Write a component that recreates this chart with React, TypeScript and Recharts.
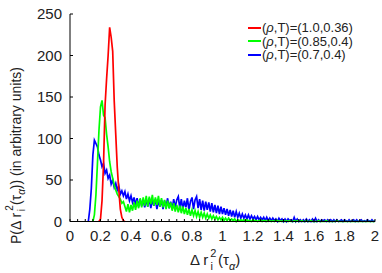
import React from 'react';
import { LineChart, Line, XAxis, YAxis, Legend } from 'recharts';

const STEP = 0.01;

const redStart = 0.19;
const redValues = [0, 3, 25, 70, 140, 172, 200, 234, 222, 205, 145, 105, 65, 38, 15, 5, 1, 0];

const greenStart = 0.15;
const greenValues = [
  0, 8, 32, 70, 110, 138, 146, 128, 125, 105, 90, 72, 60, 52, 44, 38, 33, 30, 27, 22, 24, 18,
  12, 21, 11, 20, 13, 23, 14, 25, 16, 28,
  17, 29, 19, 31, 18, 30, 21, 32, 19, 29,
  20, 31, 18, 28, 17, 26, 15, 25, 16, 23,
  13, 22, 12, 20, 11, 19, 10, 18, 9, 16,
  8, 15, 7, 14, 7, 13, 6, 12, 5, 11,
  5, 10, 4, 9, 4, 8, 3, 7, 3, 6,
  2, 5, 2, 5, 1, 4, 1, 4, 1, 3,
  1, 3, 0, 2,
  1, 2, 1, 2, 0, 2, 1, 1, 0, 2,
  1, 1, 0, 1, 2, 0, 1, 1, 0, 1,
  1, 0, 1, 0, 1, 1, 0, 1, 0, 1,
  0, 1, 0, 1, 0, 0, 1, 0, 1, 0,
  0, 1, 0, 0, 1, 0, 0, 1, 0, 0,
  0, 0, 1, 0, 0, 0, 0, 1, 0, 0,
  0, 0, 0, 0, 1, 0, 0, 0, 0, 0,
  0, 0, 0, 0, 0, 0, 0, 0, 0, 0,
  0, 0, 0, 0, 0, 0, 0, 0, 0, 0,
];

const blueStart = 0.12;
const blueValues = [
  0, 15, 40, 80, 98, 94, 90, 80, 74, 66,
  70, 58, 62, 52, 56, 45, 50, 41, 46, 38,
  43, 33, 37, 31, 36, 27, 33, 25, 31, 23,
  29, 20, 28, 18, 27, 19, 26, 17, 27, 18,
  28, 16, 26, 19, 27, 15, 25, 18, 26, 15,
  25, 17, 28, 16, 24, 15, 27, 17, 26, 30,
  16, 27, 15, 25, 17, 28, 14, 24, 29, 15,
  26, 30, 16, 27, 14, 25, 13, 24, 14, 23,
  12, 22, 11, 20, 10, 19, 9, 18, 9, 16,
  8, 15, 7, 14, 6, 13, 5, 12, 5, 10,
  4, 9, 4, 8, 3, 8, 3, 7, 3, 6,
  2, 6, 2, 5, 2, 5, 1, 5, 1, 4,
  1, 4, 1, 3, 0, 4, 1, 3, 0, 3,
  0, 3, 1, 2, 0, 5, 0, 3, 0, 2,
  0, 2, 0, 3, 0, 2, 0, 3, 0, 4,
  0, 2, 0, 2, 1, 2, 0, 2, 0, 2,
  0, 2, 0, 2, 0, 1, 2, 0, 2, 1,
  0, 2, 0, 1, 2, 0, 2, 0, 1, 2,
  0, 1, 0, 2, 1, 0, 2, 0, 1,
];

const xTicks = [
  0, 0.05, 0.1, 0.15, 0.2, 0.25, 0.3, 0.35, 0.4, 0.45, 0.5, 0.55, 0.6, 0.65, 0.7, 0.75, 0.8, 0.85, 0.9, 0.95,
  1, 1.05, 1.1, 1.15, 1.2, 1.25, 1.3, 1.35, 1.4, 1.45, 1.5, 1.55, 1.6, 1.65, 1.7, 1.75, 1.8, 1.85, 1.9, 1.95, 2,
];
const xLabeledTicks = [0, 0.2, 0.4, 0.6, 0.8, 1, 1.2, 1.4, 1.6, 1.8, 2];
const yTicks = [0, 50, 100, 150, 200, 250];

const seriesParams = ['(1.0,0.36)', '(0.85,0.4)', '(0.7,0.4)'];
const seriesColors = ['#ff0000', '#00ff00', '#0000ff'];

const FONT = '"Liberation Sans", Arial, Helvetica, sans-serif';

const toPoints = (start: number, values: number[]) =>
  values.map((y, i) => ({ x: Math.round((start + i * STEP) * 100) / 100, y }));

const redData = toPoints(redStart, redValues);
const greenData = toPoints(greenStart, greenValues);
const blueData = toPoints(blueStart, blueValues);

const isLabeled = (v: number) => xLabeledTicks.some((t) => Math.abs(t - v) < 1e-9);

const BottomTick = (props: any) => {
  const { x, y, payload } = props;
  const v = payload.value as number;
  return (
    <g>
      <line x1={x} x2={x} y1={y} y2={y - 2.5} stroke="#000" strokeWidth={1} />
      {isLabeled(v) && (
        <text x={x} y={y + 19.5} textAnchor="middle" fontSize={15} fontFamily={FONT} fill="#222">
          {String(v)}
        </text>
      )}
    </g>
  );
};

const TopTick = (props: any) => {
  const { x, y } = props;
  return <line x1={x} x2={x} y1={y} y2={y + 2.5} stroke="#000" strokeWidth={1} />;
};

const LeftTick = (props: any) => {
  const { x, y, payload } = props;
  return (
    <g>
      <line x1={x} x2={x + 3} y1={y} y2={y} stroke="#000" strokeWidth={1} />
      <text x={x - 8} y={y} dy="0.36em" textAnchor="end" fontSize={15} fontFamily={FONT} fill="#222">
        {String(payload.value)}
      </text>
    </g>
  );
};

const RightTick = (props: any) => {
  const { x, y } = props;
  return <line x1={x} x2={x - 3} y1={y} y2={y} stroke="#000" strokeWidth={1} />;
};

const XLabel = () => (
  <text x={190} y={265} fontSize={15} fontFamily={FONT} fill="#222">
    Δ r
    <tspan dx={2} dy={-8} fontSize={11}>2</tspan>
    <tspan dx={-6} dy={13} fontSize={11}>i</tspan>
    <tspan dx={5} dy={-5} fontSize={15}>(</tspan>
    <tspan fontSize={15}>τ</tspan>
    <tspan dy={5} fontSize={11} fontStyle="italic">α</tspan>
    <tspan dy={-5} fontSize={15}>)</tspan>
  </text>
);

const YLabel = () => (
  <text
    x={0}
    y={0}
    transform="translate(21,244) rotate(-90)"
    fontSize={14}
    fontFamily={FONT}
    fill="#222"
  >
    P(Δ r
    <tspan dx={2} dy={-8} fontSize={10}>2</tspan>
    <tspan dx={-6} dy={12} fontSize={10}>i</tspan>
    <tspan dx={4} dy={-4} fontSize={14}>(</tspan>
    <tspan fontSize={14}>τ</tspan>
    <tspan dy={4} fontSize={10} fontStyle="italic">α</tspan>
    <tspan dy={-4} fontSize={14}>)) (in arbitrary units)</tspan>
  </text>
);

const LegendContent = () => (
  <div style={{ fontFamily: FONT, fontSize: 13, color: '#222' }}>
    {seriesParams.map((p, i) => (
      <div key={p} style={{ display: 'flex', alignItems: 'center', height: 13.5, lineHeight: '13.5px' }}>
        <span
          style={{ display: 'inline-block', width: 13, height: 0, borderTop: `2px solid ${seriesColors[i]}`, marginRight: 1 }}
        />
        <span>
          (<span style={{ fontStyle: 'italic' }}>ρ</span>,T)={p}
        </span>
      </div>
    ))}
  </div>
);

export default function App() {
  return (
    <div style={{ position: 'absolute', left: 0, top: 0, width: 382, height: 273, background: '#fff' }}>
      <LineChart width={382} height={273} margin={{ top: 14, right: 7, bottom: 21.5, left: 0 }}>
        <XAxis
          xAxisId="b"
          dataKey="x"
          type="number"
          domain={[0, 2]}
          ticks={xTicks}
          interval={0}
          tick={<BottomTick />}
          tickLine={false}
          tickSize={0}
          tickMargin={0}
          height={30}
          axisLine={{ stroke: '#000', strokeWidth: 1 }}
          label={{ value: 'x', content: () => <XLabel /> }}
        />
        <XAxis
          xAxisId="t"
          orientation="top"
          dataKey="x"
          type="number"
          domain={[0, 2]}
          ticks={xTicks}
          interval={0}
          tick={<TopTick />}
          tickLine={false}
          tickSize={0}
          tickMargin={0}
          height={0}
          axisLine={{ stroke: '#000', strokeWidth: 1 }}
        />
        <YAxis
          yAxisId="l"
          type="number"
          domain={[0, 250]}
          ticks={yTicks}
          interval={0}
          tick={<LeftTick />}
          tickLine={false}
          tickSize={0}
          tickMargin={0}
          width={70}
          axisLine={{ stroke: '#000', strokeWidth: 1 }}
          label={{ value: 'y', content: () => <YLabel /> }}
        />
        <YAxis
          yAxisId="r"
          orientation="right"
          type="number"
          domain={[0, 250]}
          ticks={yTicks}
          interval={0}
          tick={<RightTick />}
          tickLine={false}
          tickSize={0}
          tickMargin={0}
          width={0}
          axisLine={{ stroke: '#000', strokeWidth: 1 }}
        />
        <Legend
          layout="vertical"
          align="center"
          verticalAlign="middle"
          content={() => <LegendContent />}
          wrapperStyle={{ left: 248, top: 21, width: 130, height: 42 }}
        />
        <Line xAxisId="b" yAxisId="l" data={blueData} dataKey="y" stroke={seriesColors[2]} strokeWidth={1.7} dot={false} isAnimationActive={false} type="linear" />
        <Line xAxisId="b" yAxisId="l" data={greenData} dataKey="y" stroke={seriesColors[1]} strokeWidth={1.7} dot={false} isAnimationActive={false} type="linear" />
        <Line xAxisId="b" yAxisId="l" data={redData} dataKey="y" stroke={seriesColors[0]} strokeWidth={1.7} dot={false} isAnimationActive={false} type="linear" />
      </LineChart>
    </div>
  );
}
